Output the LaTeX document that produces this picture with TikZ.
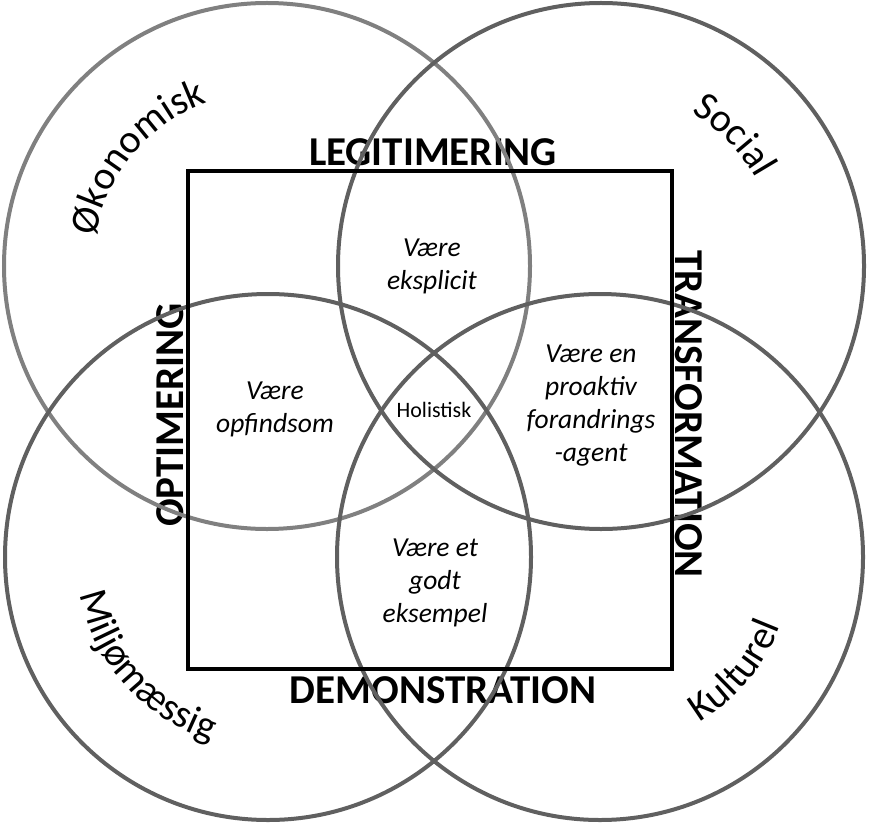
\documentclass[tikz,border=0pt]{standalone}
\usepackage{fontspec}
\setmainfont{Carlito}
\usetikzlibrary{decorations.text}
\definecolor{lightring}{RGB}{128,128,128}
\definecolor{darkring}{RGB}{96,96,96}
\tikzset{
  ring/.style={line width=4pt, draw=darkring},
  bigword/.style={font=\fontsize{41}{41}\selectfont\bfseries, inner sep=0pt},
  inner/.style={font=\fontsize{27.5}{33}\selectfont\itshape, align=center, inner sep=0pt},
  frame/.style={line width=4.5pt, draw=black},
}
\begin{document}
\begin{tikzpicture}[x=1pt,y=1pt]
\useasboundingbox (0,0) rectangle (869,-826);
% centres
\coordinate (ctl) at (267,-266);
\coordinate (ctr) at (601,-266);
\coordinate (cbl) at (268,-557);
\coordinate (cbr) at (600,-557);
% bold labels
\node[bigword] (leg) at (433,-152) {LEGITIMERING};
\node[bigword] (dem) at (443,-690) {DEMONSTRATION};
\node[bigword, rotate=90] (opt) at (170,-415) {OPTIMERING};
\node[bigword, rotate=-90] (tra) at (689,-414) {TRANSFORMATION};
% inner texts
\node[inner] (eks) at (432,-266) {Være\\eksplicit};
\node[inner] (opf) at (275,-409) {Være\\opfindsom};
\node[inner] (pro) at (591,-406) {Være en\\proaktiv\\forandrings\\-agent};
\node[inner] (god) at (435,-583) {Være et\\godt\\eksempel};
\node[font=\fontsize{22}{22}\selectfont, inner sep=0pt] (hol) at (434,-410) {Holistisk};
% curved circle labels
\path[decorate, decoration={text along path, text align=center,
  text={|\fontsize{40}{40}\selectfont|Økonomisk}}]
  (ctl) ++(176:174) arc[start angle=176, end angle=104, radius=174];
\path[decorate, decoration={text along path, text align=center,
  text={|\fontsize{40}{40}\selectfont|Social}}]
  (ctr) ++(64:178) arc[start angle=64, end angle=25, radius=178];
\path[decorate, decoration={text along path, text align=center,
  text={|\fontsize{40}{40}\selectfont|Miljømæssig}}]
  (cbl) ++(187:192) arc[start angle=187, end angle=257, radius=192];
\path[decorate, decoration={text along path, text align=center,
  text={|\fontsize{40}{40}\selectfont|Kulturel}}]
  (cbr) ++(-66:193) arc[start angle=-66, end angle=-14, radius=193];
% circles
\draw[ring, draw=lightring] (ctl) circle[radius=263];
\draw[ring] (ctr) circle[radius=263];
\draw[ring] (cbl) circle[radius=263];
\draw[ring] (cbr) circle[radius=263];
% frame
\draw[frame] (188,-171) rectangle (672,-669);
\end{tikzpicture}
\end{document}
